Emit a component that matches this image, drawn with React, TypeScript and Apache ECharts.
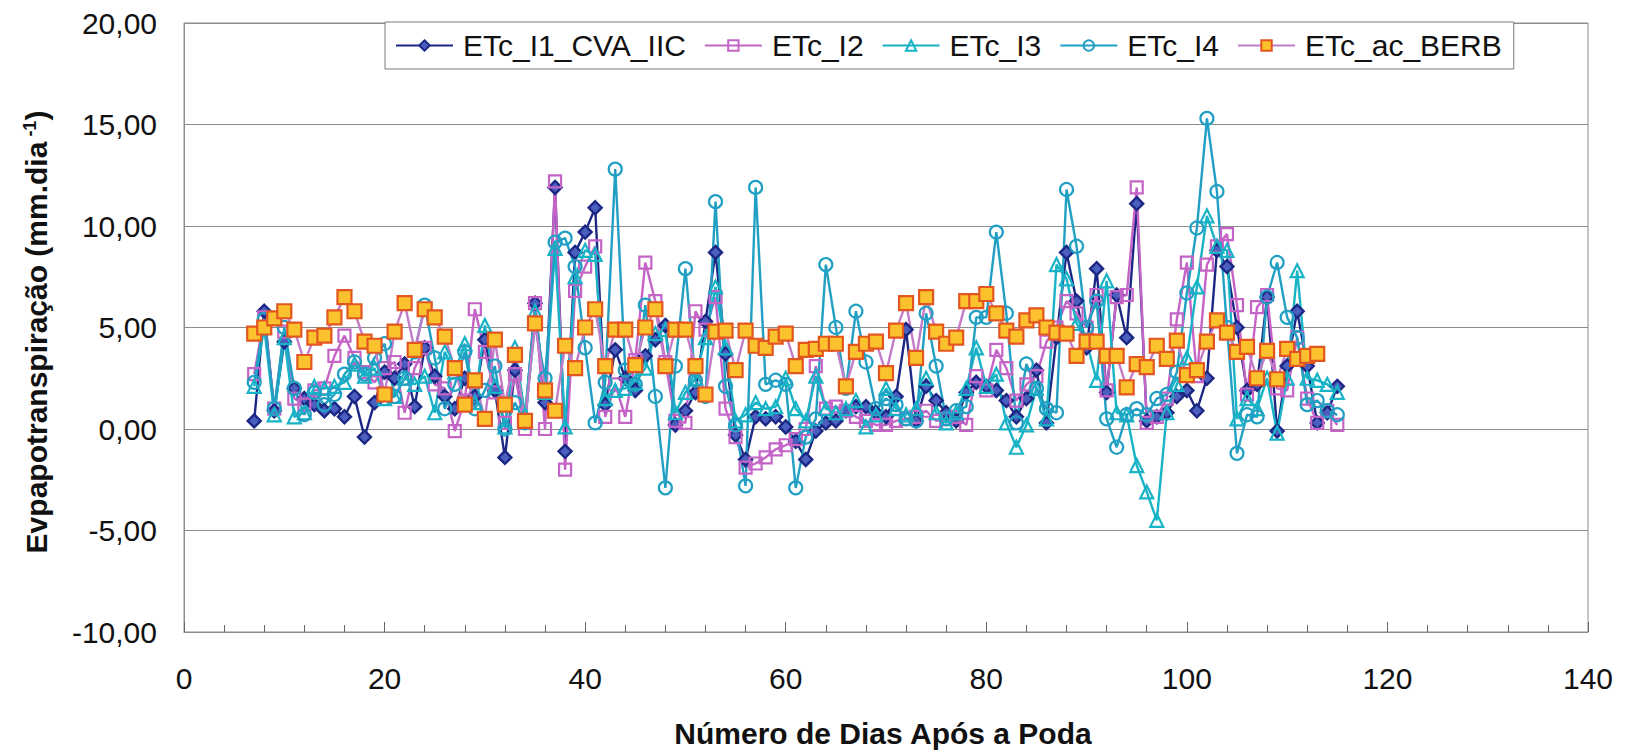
import React, { useEffect, useRef } from "react";
import * as echarts from "echarts";

const days = [
  7, 8, 9, 10, 11, 12, 13, 14, 15, 16,
  17, 18, 19, 20, 21, 22, 23, 24, 25, 26,
  27, 28, 29, 30, 31, 32, 33, 34, 35, 36,
  37, 38, 39, 40, 41, 42, 43, 44, 45, 46,
  47, 48, 49, 50, 51, 52, 53, 54, 55, 56,
  57, 58, 59, 60, 61, 62, 63, 64, 65, 66,
  67, 68, 69, 70, 71, 72, 73, 74, 75, 76,
  77, 78, 79, 80, 81, 82, 83, 84, 85, 86,
  87, 88, 89, 90, 91, 92, 93, 94, 95, 96,
  97, 98, 99, 100, 101, 102, 103, 104, 105, 106,
  107, 108, 109, 110, 111, 112, 113, 114, 115,
];

const etcI1 = [
  0.4, 5.8, 0.9, 4.3, 2.0, 1.5, 1.2, 0.9, 1.0, 0.6,
  1.6, -0.4, 1.3, 2.8, 2.5, 3.2, 1.1, 4.0, 2.6, 1.6,
  1.0, 2.5, 1.6, 4.4, 1.9, -1.4, 2.9, 0.4, 6.2, 1.3,
  11.9, -1.1, 8.7, 9.7, 10.9, 1.2, 3.9, 2.5, 1.9, 3.6,
  4.4, 5.1, 0.2, 0.9, 1.8, 5.3, 8.7, 3.7, -0.3, -1.5,
  0.6, 0.5, 0.6, 0.1, -0.6, -1.5, -0.1, 0.3, 0.4, 0.9,
  1.1, 1.1, 0.8, 0.6, 1.6, 4.9, 0.4, 2.1, 1.4, 0.8,
  0.4, 1.8, 2.3, 2.1, 1.9, 1.4, 0.6, 1.5, 2.9, 0.3,
  4.5, 8.7, 6.3, 4.0, 7.9, 1.8, 6.6, 4.5, 11.1, 0.4,
  0.6, 0.8, 1.6, 1.9, 0.9, 2.5, 8.8, 8.0, 5.0, 1.9,
  2.2, 6.5, -0.1, 3.1, 5.8, 3.1, 0.3, 0.8, 2.1,
];

const etcI2 = [
  2.7, 5.5, 1.0, 4.8, 1.5, 1.2, 1.9, 2.0, 3.6, 4.6,
  3.5, 2.8, 2.3, 3.0, 3.3, 0.8, 3.0, 4.0, 2.2, 2.0,
  -0.1, 1.4, 5.9, 3.8, 1.8, 0.3, 2.7, 0.0, 6.2, 0.0,
  12.2, -2.0, 6.8, 8.0, 9.0, 0.6, 2.2, 0.6, 3.4, 8.2,
  6.3, 3.3, 0.4, 0.3, 5.8, 4.9, 6.5, 1.0, -0.4, -1.9,
  -1.7, -1.4, -1.0, -0.8, -0.5, 0.0, 3.1, 1.0, 1.1, 0.9,
  0.6, 0.4, 0.2, 0.2, 0.4, 0.5, 0.6, 0.9, 0.4, 0.5,
  0.6, 0.2, 2.6, 1.9, 3.9, 3.0, 1.4, 2.2, 2.6, 4.3,
  5.0, 6.3, 5.7, 5.0, 6.6, 1.9, 6.5, 6.6, 11.9, 0.3,
  0.6, 1.5, 5.4, 8.2, 2.6, 8.1, 9.0, 9.6, 6.1, 1.7,
  6.0, 6.6, 2.0, 1.9, 4.5, 1.5, 0.3, 0.9, 0.2,
];

const etcI3 = [
  2.1, 5.0, 0.7, 4.5, 0.6, 0.8, 2.1, 2.0, 2.1, 2.3,
  3.2, 2.6, 3.0, 1.5, 1.6, 2.5, 2.2, 2.6, 0.8, 3.8,
  2.8, 4.2, 1.3, 5.1, 2.1, 0.1, 4.0, 0.7, 5.8, 1.8,
  8.9, 0.1, 7.5, 8.8, 8.6, 1.5, 1.9, 2.0, 2.3, 3.0,
  4.7, 4.9, 0.8, 1.8, 2.5, 4.5, 7.0, 4.0, 0.4, 0.7,
  1.3, 1.0, 1.1, 2.5, 1.0, 0.4, 2.6, 1.0, 0.8, 1.0,
  1.4, 0.1, 0.7, 2.0, 1.0, 0.7, 1.0, 2.5, 0.8, 0.3,
  0.8, 2.0, 4.0, 2.1, 2.7, 0.3, -0.9, 0.2, 2.0, 0.5,
  8.1, 7.4, 5.2, 4.3, 2.4, 7.3, 0.8, 0.7, -1.8, -3.1,
  -4.5, 0.8, 2.2, 3.5, 7.0, 10.5, 9.0, 8.8, 0.5, 1.5,
  1.0, 2.5, -0.2, 2.5, 7.8, 2.5, 2.4, 2.2, 1.8,
];

const etcI4 = [
  2.3, 5.4, 1.0, 5.0, 2.0, 0.7, 1.8, 1.2, 1.7, 2.7,
  3.3, 2.7, 3.5, 4.2, 1.6, 2.5, 3.8, 6.1, 3.5, 1.0,
  2.2, 3.8, 1.0, 1.9, 3.1, 0.0, 1.3, 0.3, 5.2, 2.5,
  9.2, 9.4, 8.0, 4.0, 0.3, 2.3, 12.8, 2.9, 2.2, 6.1,
  1.6, -2.9, 3.1, 7.9, 2.4, 1.6, 11.2, 2.1, 0.2, -2.8,
  11.9, 2.2, 2.4, 2.2, -2.9, -0.4, 0.5, 8.1, 5.0, 2.0,
  5.8, 3.3, 1.0, 1.5, 1.2, 0.5, 0.4, 5.7, 3.1, 0.5,
  0.9, 1.1, 5.5, 5.5, 9.7, 5.7, 0.3, 3.2, 2.0, 1.0,
  0.8, 11.8, 9.0, 5.0, 6.3, 0.5, -0.9, 0.7, 1.0, 0.7,
  1.5, 1.7, 2.8, 6.7, 9.9, 15.3, 11.7, 5.0, -1.2, 0.7,
  0.6, 6.5, 8.2, 5.5, 4.5, 1.2, 1.4, 0.9, 0.7,
];

const etcAcBerb = [
  4.7, 5.0, 5.45, 5.8, 4.9, 3.3, 4.5, 4.6, 5.5, 6.5,
  5.8, 4.3, 4.1, 1.7, 4.8, 6.2, 3.9, 5.9, 5.5, 4.55,
  3.0, 1.2, 2.4, 0.5, 4.4, 1.2, 3.65, 0.4, 5.2, 1.9,
  0.9, 4.1, 3.0, 5.0, 5.9, 3.1, 4.9, 4.9, 3.15, 5.0,
  5.9, 3.1, 4.9, 4.9, 3.1, 1.7, 4.8, 4.85, 2.9, 4.85,
  4.1, 4.0, 4.55, 4.7, 3.1, 3.9, 3.95, 4.2, 4.2, 2.1,
  3.8, 4.2, 4.3, 2.75, 4.85, 6.2, 3.5, 6.5, 4.8, 4.2,
  4.5, 6.3, 6.3, 6.65, 5.7, 4.85, 4.55, 5.35, 5.6, 5.0,
  4.75, 4.7, 3.6, 4.3, 4.3, 3.6, 3.6, 2.05, 3.2, 3.05,
  4.1, 3.45, 4.35, 2.65, 2.9, 4.3, 5.35, 4.75, 3.8, 4.05,
  2.5, 3.85, 2.45, 3.95, 3.45, 3.6, 3.7,
];

const seriesNames = ["ETc_I1_CVA_IIC", "ETc_I2", "ETc_I3", "ETc_I4", "ETc_ac_BERB"];

const FONT = "'Liberation Sans', Arial, sans-serif";

function pairs(values: number[]) {
  return values.map((v, i) => [days[i], v]);
}

export default function App() {
  const ref = useRef<HTMLDivElement>(null);

  useEffect(() => {
    if (!ref.current) return;
    const chart = echarts.init(ref.current, undefined, { renderer: "svg" });

    const mk = (
      name: string,
      values: number[],
      symbol: string,
      size: number,
      lineColor: string,
      fill: string,
      border: string,
      borderWidth: number
    ) => ({
      name,
      type: "line",
      data: pairs(values),
      symbol,
      symbolSize: size,
      showSymbol: true,
      showAllSymbol: true,
      lineStyle: { color: lineColor, width: 2.4 },
      itemStyle: { color: fill, borderColor: border, borderWidth },
      emphasis: { disabled: true },
    });

    chart.setOption({
      animation: false,
      backgroundColor: "#ffffff",
      grid: {
        left: 184,
        right: 42,
        top: 23,
        bottom: 119,
        show: true,
        borderColor: "#8c8c8c",
        borderWidth: 1,
      },
      legend: {
        left: 385,
        top: 22,
        orient: "horizontal",
        data: seriesNames,
        itemWidth: 57,
        itemHeight: 13,
        itemGap: 18,
        padding: [7, 12, 7, 10],
        borderColor: "#7a7a7a",
        borderWidth: 1,
        backgroundColor: "#ffffff",
        textStyle: {
          fontFamily: FONT,
          fontSize: 30,
          color: "#111111",
          lineHeight: 33,
          padding: [0, 0, 0, 5],
        },
      },
      xAxis: {
        type: "value",
        min: 0,
        max: 140,
        interval: 20,
        axisLine: { show: true, onZero: false, lineStyle: { color: "#8c8c8c", width: 1 } },
        axisTick: { show: true, inside: true, length: 10, lineStyle: { color: "#666666" } },
        minorTick: { show: true, splitNumber: 5, length: 7, lineStyle: { color: "#666666" } },
        splitLine: { show: false },
        axisLabel: {
          fontFamily: FONT,
          fontSize: 30,
          color: "#111111",
          margin: 31,
        },
      },
      yAxis: {
        type: "value",
        min: -10,
        max: 20,
        interval: 5,
        axisLine: { show: true, onZero: false, lineStyle: { color: "#8c8c8c", width: 1 } },
        axisTick: { show: false },
        splitLine: { show: true, lineStyle: { color: "#8c8c8c", width: 1 } },
        axisLabel: {
          fontFamily: FONT,
          fontSize: 30,
          color: "#111111",
          margin: 27,
          formatter: (v: number) => v.toFixed(2).replace(".", ","),
        },
      },
      graphic: [
        {
          type: "text",
          x: 883,
          y: 733,
          style: {
            text: "Número de Dias Após a Poda",
            fontFamily: FONT,
            fontSize: 30,
            fontWeight: "bold",
            fill: "#111111",
            align: "center",
            verticalAlign: "middle",
          },
        },
        {
          type: "text",
          x: 36,
          y: 332,
          rotation: Math.PI / 2,
          style: {
            text: "Evpapotranspiração (mm.dia{sup| -1})",
            fontFamily: FONT,
            fontSize: 30,
            fontWeight: "bold",
            fill: "#111111",
            align: "center",
            verticalAlign: "middle",
            rich: {
              sup: {
                fontFamily: FONT,
                fontSize: 18,
                fontWeight: "bold",
                fill: "#111111",
                verticalAlign: "top",
                padding: [0, 0, 12, 0],
              },
            },
          },
        },
      ],
      series: [
        mk(seriesNames[0], etcI1, "diamond", 13, "#1c2785", "#4b5fbf", "#1c2785", 2.4),
        mk(seriesNames[1], etcI2, "rect", 12, "#c464c6", "rgba(255,255,255,0)", "#c464c6", 2.2),
        mk(seriesNames[2], etcI3, "triangle", 13, "#17b3c6", "rgba(255,255,255,0)", "#17b3c6", 2.2),
        mk(seriesNames[3], etcI4, "circle", 13, "#21a0c4", "rgba(255,255,255,0)", "#21a0c4", 2.2),
        mk(seriesNames[4], etcAcBerb, "rect", 14, "#c27cc8", "#fbc22e", "#e3561f", 2.2),
      ],
    });

    return () => chart.dispose();
  }, []);

  return (
    <div
      ref={ref}
      style={{ position: "absolute", left: 0, top: 0, width: 1630, height: 751 }}
    />
  );
}
